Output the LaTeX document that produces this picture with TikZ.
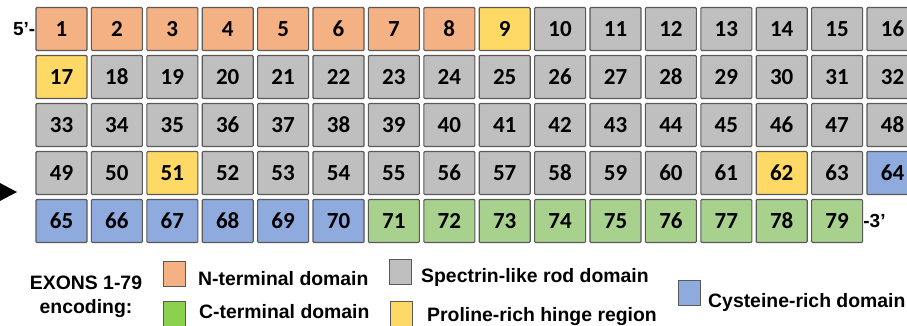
\documentclass[tikz,border=0pt]{standalone}
\usepackage{fontspec}
\setmainfont{Liberation Sans}
\newfontfamily\numfamily{Carlito}
\usetikzlibrary{positioning}
\definecolor{ntermfill}{HTML}{F4B183}
\definecolor{rodfill}{HTML}{BFBFBF}
\definecolor{hingefill}{HTML}{FFD966}
\definecolor{cysfill}{HTML}{8FAADC}
\definecolor{ctermfill}{HTML}{A9D18E}
\definecolor{ctermkey}{HTML}{8CD04F}

\begin{document}
\begin{tikzpicture}[x=1pt,y=1pt,
 every node/.style={inner sep=0pt},
 exon/.style={draw=black!65,line width=1.1pt,rounded corners=1pt,minimum width=51,minimum height=43,
  font=\fontsize{23}{24}\selectfont\numfamily\bfseries},
 keybox/.style={draw=black!65,line width=0.9pt,minimum width=22,minimum height=25},
 keytext/.style={anchor=base west,font=\fontsize{19.4}{22}\selectfont\bfseries},
 strand/.style={font=\fontsize{19}{22}\selectfont\bfseries}]
\useasboundingbox (0,0) rectangle (907,-326);

% exon grid, 16 per row
\foreach \dom/\a/\b in {ntermfill/1/8,hingefill/9/9,rodfill/10/16,hingefill/17/17,rodfill/18/50,
  hingefill/51/51,rodfill/52/61,hingefill/62/62,rodfill/63/63,cysfill/64/70,ctermfill/71/79} {
 \foreach \n in {\a,...,\b} {
  \pgfmathtruncatemacro\col{mod(\n-1,16)}
  \pgfmathtruncatemacro\row{(\n-1)/16}
  \node[exon,fill=\dom] (e\n) at ({61.5+55.4*\col},{-29-48*\row}) {\n};
 }
}

\node[strand,anchor=east] (five) at (e1.west) {5’-};
\node[strand,anchor=west] (three) at (e79.east) {-3’};

% arrowhead on the left
\fill[black] (-2,-182) -- (17,-192) -- (-2,-202) -- cycle;

% legend
\node[keytext,anchor=base] (exons) at (86,-289) {EXONS 1-79};
\node[keytext,anchor=base] (encoding) at (86,-313) {encoding:};
\node[keybox,fill=ntermfill] (knterm) at (174,-273.5) {};
\node[keytext] (tnterm) at (198,-285) {N-terminal domain};
\node[keybox,fill=ctermkey] (kcterm) at (174,-314) {};
\node[keytext] (tcterm) at (199,-318) {C-terminal domain};
\node[keybox,fill=rodfill] (krod) at (400.5,-272) {};
\node[keytext] (trod) at (421,-282) {Spectrin-like rod domain};
\node[keybox,fill=hingefill] (khinge) at (401,-314) {};
\node[keytext] (thinge) at (427,-321) {Proline-rich hinge region};
\node[keybox,fill=cysfill] (kcys) at (689,-293) {};
\node[keytext] (tcys) at (708,-307) {Cysteine-rich domain};
\end{tikzpicture}
\end{document}
